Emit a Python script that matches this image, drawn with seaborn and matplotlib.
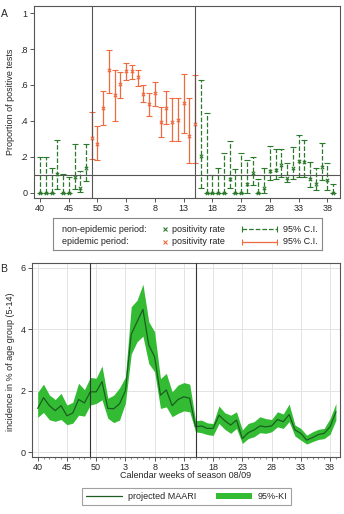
import numpy as np
import matplotlib
matplotlib.use("Agg")
import matplotlib.pyplot as plt
from matplotlib.lines import Line2D
from matplotlib.patches import Patch
import seaborn as sns

# calendar weeks of season 08/09 (week 40/2008 .. week 39/2009)
weeks = list(range(40, 53)) + list(range(1, 40))
epi_start, epi_end = 49, 15

# Panel A: proportion of positive tests with 95% CI
pos_rate = [0, 0, 0, 0.105, 0, 0, 0.09, 0.025, 0.14,
            0.306, 0.27, 0.471, 0.686, 0.547, 0.604, 0.678, 0.675, 0.643, 0.551,
            0.494, 0.553, 0.394, 0.473, 0.392, 0.405, 0.50, 0.318, 0.383,
            0.203, 0, 0, 0, 0, 0.077, 0, 0, 0.05, 0.112, 0, 0.03, 0.12, 0.13,
            0.158, 0.085, 0.14, 0.18, 0.173, 0.08, 0.048, 0.146, 0.072, 0]
ci_low = [0, 0, 0, 0.02, 0, 0, 0.02, 0.005, 0.065,
          0.19, 0.182, 0.38, 0.558, 0.40, 0.529, 0.628, 0.634, 0.597, 0.503,
          0.429, 0.485, 0.311, 0.385, 0.286, 0.29, 0.336, 0.164, 0.165,
          0.03, 0, 0, 0, 0, 0.026, 0, 0, 0, 0.044, 0, 0, 0.07, 0.08,
          0.09, 0.062, 0.08, 0.087, 0.087, 0.035, 0.017, 0.072, 0.017, 0]
ci_high = [0.2, 0.2, 0.139, 0.297, 0.105, 0.09, 0.27, 0.12, 0.27,
           0.449, 0.37, 0.566, 0.794, 0.686, 0.67, 0.722, 0.711, 0.683, 0.598,
           0.553, 0.617, 0.478, 0.566, 0.53, 0.529, 0.663, 0.53, 0.654,
           0.628, 0.447, 0.10, 0.137, 0.22, 0.29, 0.131, 0.22, 0.182, 0.20, 0.08, 0.137, 0.26, 0.247,
           0.247, 0.164, 0.256, 0.32, 0.293, 0.17, 0.137, 0.278, 0.164, 0.048]
threshold = 0.1

# Panel B: projected MAARI incidence (5-14) with 95%-KI
maari = [1.43, 1.78, 1.52, 1.36, 1.52, 1.19, 1.28, 1.72, 1.61, 1.97, 1.97, 2.30, 1.43,
         1.42, 1.58, 2.0, 3.84, 4.25, 4.65, 3.49, 3.11, 1.86, 2.03, 1.52, 1.72, 1.81,
         1.76, 0.83, 0.86, 0.78, 0.78, 1.21, 1.03, 0.89, 1.05, 0.45, 0.64, 0.73, 0.86,
         0.83, 0.86, 1.07, 1.0, 1.23, 0.73, 0.62, 0.40, 0.48, 0.58, 0.62, 0.83, 1.32]
maari_hi = [1.95, 2.22, 1.87, 1.72, 1.92, 1.54, 1.63, 2.25, 2.04, 2.44, 2.41, 2.81, 1.76,
            1.86, 2.1, 2.45, 4.74, 4.95, 5.47, 4.25, 3.92, 2.40, 2.57, 1.97, 2.19, 2.27,
            2.22, 1.03, 1.05, 0.96, 0.94, 1.51, 1.29, 1.21, 1.32, 0.73, 0.94, 1.0, 1.16,
            1.10, 1.07, 1.32, 1.25, 1.57, 0.89, 0.78, 0.56, 0.67, 0.75, 0.78, 1.10, 1.59]
maari_lo = [1.14, 1.30, 1.06, 1.01, 1.07, 0.90, 0.95, 1.21, 1.18, 1.54, 1.59, 1.71, 1.11,
            0.97, 1.05, 1.6, 3.2, 3.6, 3.78, 2.89, 2.62, 1.43, 1.48, 1.16, 1.27, 1.35,
            1.32, 0.67, 0.64, 0.58, 0.55, 0.94, 0.75, 0.62, 0.78, 0.29, 0.45, 0.51, 0.64,
            0.62, 0.67, 0.83, 0.78, 1.0, 0.53, 0.40, 0.27, 0.35, 0.42, 0.45, 0.59, 1.05]

sns.set_theme(style="white")
plt.rcParams['font.family'] = ['Liberation Sans', 'DejaVu Sans']

orange = '#EE6A3F'
dgreen = '#2B7A2B'
fillgreen = '#33BB33'
linegreen = '#1B5E20'
axcol = '#555555'
fs = 6.5

idx = np.arange(len(weeks))
pos = np.array(pos_rate)
lo = np.array(ci_low)
hi = np.array(ci_high)
i_start = weeks.index(epi_start)
i_end = weeks.index(epi_end)
epi = (idx >= i_start) & (idx <= i_end)
tick_idx = idx[::5]
tick_lab = [str(weeks[i]) for i in tick_idx]

fig = plt.figure(figsize=(3.44, 5.14), dpi=100)

# ---------- Panel A ----------
axA = fig.add_axes([34/344, 1-198/514, 306/344, 192/514])
for mask, col, ls in [(~epi, dgreen, '--'), (epi, orange, '-')]:
    eb = axA.errorbar(idx[mask], pos[mask], yerr=[pos[mask]-lo[mask], hi[mask]-pos[mask]],
                      fmt='none', ecolor=col, elinewidth=0.9, capsize=2.0, capthick=0.8)
    eb[2][0].set_linestyle(ls)
    sns.scatterplot(x=idx[mask], y=pos[mask], ax=axA, marker='x', color=col, s=6,
                    linewidth=0.8, zorder=3)
axA.axvline(i_start, color=axcol, lw=0.8)
axA.axvline(i_end, color=axcol, lw=0.8)
axA.axhline(threshold, color=axcol, lw=0.8)
axA.set_xlim(-1.05, 52.2)
axA.set_ylim(-0.028, 1.039)
axA.set_yticks([0, 0.2, 0.4, 0.6, 0.8, 1])
axA.set_yticklabels(['0', '.2', '.4', '.6', '.8', '1'])
axA.set_xticks(tick_idx)
axA.set_xticklabels(tick_lab)
axA.set_ylabel('Proportion of positive tests', fontsize=fs)
axA.yaxis.set_label_coords(-0.062, 0.5)

# ---------- Panel B ----------
axB = fig.add_axes([32/344, 1-456.7/514, 308/344, 193.7/514])
axB.grid(True, color='#e3e3e3', lw=0.7)
axB.fill_between(idx, maari_lo, maari_hi, color=fillgreen, lw=0, zorder=2)
sns.lineplot(x=idx, y=maari, ax=axB, color=linegreen, lw=0.9, zorder=3)
axB.axvline(i_start, color='#333333', lw=0.8, zorder=4)
axB.axvline(i_end, color='#333333', lw=0.8, zorder=4)
axB.set_xlim(-0.97, 51.7)
axB.set_ylim(-0.14, 6.16)
axB.set_yticks([0, 2, 4, 6])
axB.set_xticks(tick_idx)
axB.set_xticklabels(tick_lab)
axB.set_xticks(idx, minor=True)
axB.set_ylabel('incidence in % of age group (5-14)', fontsize=fs)
axB.yaxis.set_label_coords(-0.055, 0.49)
axB.set_xlabel('Calendar weeks of season 08/09', fontsize=fs, labelpad=0)
axB.xaxis.set_label_coords(0.5, -0.075)

for ax in (axA, axB):
    for s in ax.spines.values():
        s.set_color(axcol)
        s.set_linewidth(0.8)
    ax.tick_params(axis='both', which='major', direction='out', length=3, width=0.7,
                   color=axcol, labelsize=fs, pad=1.5, bottom=True, left=True)
axB.tick_params(axis='x', which='minor', direction='out', length=1.5, width=0.5,
                color=axcol, bottom=True)

# ---------- Legend A (drawn in its own box) ----------
lg = fig.add_axes([53/344, 1-250/514, 269/344, 32/514])
lg.set_xlim(0, 269)
lg.set_ylim(32, 0)
lg.set_xticks([])
lg.set_yticks([])
for s in lg.spines.values():
    s.set_color('#888888')
    s.set_linewidth(0.8)
rows = [(11, 'non-epidemic period:', dgreen, '--'), (23.7, 'epidemic period:', orange, '-')]
for y, lab, col, ls in rows:
    lg.text(9.3, y, lab, fontsize=fs, va='center', ha='left', color='#222222')
    lg.plot([112], [y], marker='x', color=col, ms=2.5, mew=0.8)
    lg.text(118.7, y, 'positivity rate', fontsize=fs, va='center', ha='left', color='#222222')
    lg.plot([188.7, 223.7], [y, y], color=col, ls=ls, lw=0.9)
    lg.plot([188.7, 223.7], [y, y], color=col, ls='none', marker='|', ms=4, mew=0.8)
    lg.text(229.7, y, '95% C.I.', fontsize=fs, va='center', ha='left', color='#222222')

# ---------- Legend B ----------
handles = [Line2D([], [], color=linegreen, lw=0.9), Patch(facecolor=fillgreen, edgecolor='none')]
legB = fig.legend(handles, ['projected MAARI', '95%-KI'], loc='center',
                  bbox_to_anchor=(186.5/344, 1-496.5/514), ncol=2, fontsize=fs,
                  frameon=True, fancybox=False, edgecolor='#888888', handlelength=4,
                  handletextpad=0.6, columnspacing=2.2, borderpad=0.4)
legB.get_frame().set_linewidth(0.8)

fig.text(0.5/344, 1-14/514, 'A', fontsize=7.5, va='center', ha='left')
fig.text(0.5/344, 1-269/514, 'B', fontsize=7.5, va='center', ha='left')

fig.savefig('out.png', dpi=100)
